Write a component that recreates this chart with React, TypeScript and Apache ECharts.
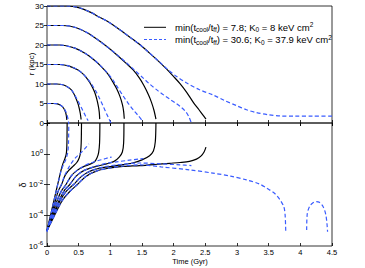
import React, { useEffect, useRef } from "react";
import * as echarts from "echarts";

// ---------- Top panel: radius r (kpc) vs time (Gyr) ----------
const rSolid5 = [[0,5],[0.1,5],[0.15,4.95],[0.2,4.7],[0.24,4.25],[0.27,3.6],[0.29,2.9],[0.303,2.1],[0.31,1.3],[0.312,0.8]];
const rDash5 = [[0,5],[0.1,5],[0.15,4.95],[0.2,4.7],[0.24,4.25],[0.27,3.7],[0.3,2.8],[0.32,1.8],[0.335,0.8],[0.342,0]];
const rSolid10 = [[0,10],[0.15,10],[0.25,9.8],[0.32,9.3],[0.385,8.5],[0.43,7.3],[0.46,6.2],[0.49,4.9],[0.51,3.7],[0.525,2.5],[0.535,1.4],[0.538,0.9]];
const rDash10 = [[0,10],[0.15,10],[0.25,9.8],[0.32,9.3],[0.385,8.5],[0.43,7.4],[0.47,6.2],[0.51,5.0],[0.55,3.7],[0.59,2.4],[0.62,1.4],[0.65,0.6]];
const rSolid15 = [[0,15],[0.2,15],[0.35,14.6],[0.49,13.6],[0.58,12.4],[0.65,11.0],[0.7,9.7],[0.75,8.0],[0.785,6.2],[0.81,4.4],[0.825,2.8],[0.832,1.0]];
const rDash15 = [[0,15],[0.2,15],[0.35,14.6],[0.49,13.6],[0.58,12.4],[0.65,11.1],[0.71,9.8],[0.77,8.2],[0.83,6.3],[0.89,4.2],[0.94,2.4],[0.98,1.0],[1.01,0]];
const rSolid20 = [[0,20],[0.2,20],[0.44,19.2],[0.6,17.9],[0.75,16.1],[0.85,14.6],[0.96,12.6],[1.04,10.5],[1.1,8.8],[1.15,6.9],[1.19,4.8],[1.21,3.0],[1.22,1.1]];
const rDash20 = [[0,20],[0.2,20],[0.44,19.2],[0.6,17.9],[0.75,16.1],[0.85,14.6],[0.96,12.7],[1.05,10.8],[1.12,9.0],[1.2,7.0],[1.28,5.1],[1.36,3.4],[1.44,1.9],[1.51,0.5]];
const rSolid25 = [[0,25],[0.25,25],[0.45,24.5],[0.65,23.0],[0.83,21.0],[0.96,19.4],[1.1,17.5],[1.25,15.3],[1.36,13.6],[1.46,11.5],[1.53,9.6],[1.6,7.3],[1.65,5.3],[1.69,3.2],[1.72,1.0]];
const rDash25 = [[0,25],[0.25,25],[0.45,24.5],[0.65,23.0],[0.83,21.0],[0.96,19.4],[1.1,17.6],[1.25,15.5],[1.4,13.3],[1.52,11.5],[1.62,10.0],[1.75,8.3],[1.85,7.1],[1.94,6.1],[2.04,5.0],[2.12,4.0],[2.19,2.9],[2.24,1.6],[2.28,0]];
const rSolid30 = [[0,30],[0.3,30],[0.5,29.6],[0.7,28.3],[0.83,27.1],[0.94,26.2],[1.1,24.5],[1.36,21.4],[1.46,20.2],[1.6,18.2],[1.75,16.0],[1.89,13.8],[2.0,11.9],[2.1,10.1],[2.2,8.0],[2.31,5.3],[2.4,3.4],[2.46,2.1],[2.51,1.0]];
const rDash30 = [[0,30],[0.3,30],[0.5,29.6],[0.7,28.3],[0.83,27.1],[0.94,26.2],[1.1,24.5],[1.36,21.4],[1.46,20.2],[1.6,18.2],[1.78,15.6],[1.9,13.8],[2.04,12.0],[2.2,10.3],[2.4,8.6],[2.62,7.2],[2.8,5.8],[3.0,4.4],[3.15,3.4],[3.3,2.7],[3.5,2.1],[3.68,1.8],[3.9,1.75],[4.2,1.75],[4.5,1.75]];

// ---------- Bottom panel: delta vs time (Gyr) ----------
const dSolid5 = [[0,1e-5],[0.06,1.2e-4],[0.12,1.4e-3],[0.18,1.6e-2],[0.22,8e-2],[0.25,0.22],[0.28,0.45],[0.3,0.8],[0.31,1.6],[0.315,6],[0.318,100]];
const dDash5 = [[0,8e-6],[0.06,1e-4],[0.12,1.3e-3],[0.18,1.5e-2],[0.22,7e-2],[0.26,0.2],[0.29,0.35],[0.31,0.6],[0.33,1.4],[0.34,6],[0.344,100]];
const dSolid10 = [[0,1e-5],[0.06,8e-5],[0.12,6e-4],[0.18,4e-3],[0.23,1e-2],[0.28,3.5e-2],[0.34,8e-2],[0.41,0.15],[0.47,0.27],[0.51,0.55],[0.53,1.3],[0.54,5],[0.545,100]];
const dDash10 = [[0,1e-5],[0.06,8e-5],[0.12,6e-4],[0.18,4e-3],[0.23,1.1e-2],[0.28,4e-2],[0.34,0.12],[0.4,0.3],[0.46,0.6],[0.53,1.1],[0.59,2.0],[0.63,3.0],[0.66,4.4]];
const dSolid15 = [[0,1e-5],[0.08,1e-4],[0.16,9e-4],[0.23,4e-3],[0.3,1e-2],[0.38,3.5e-2],[0.47,8e-2],[0.57,0.14],[0.68,0.21],[0.75,0.3],[0.79,0.55],[0.815,1.2],[0.83,5],[0.835,100]];
const dDash15 = [[0,1e-5],[0.08,1e-4],[0.16,9e-4],[0.23,4e-3],[0.3,1e-2],[0.38,3.5e-2],[0.47,8e-2],[0.57,0.15],[0.68,0.24],[0.8,0.35],[0.9,0.45],[0.97,0.55],[1.02,0.6]];
const dSolid20 = [[0,1e-5],[0.1,1.2e-4],[0.2,1.1e-3],[0.28,4.5e-3],[0.36,1e-2],[0.46,3.5e-2],[0.58,8e-2],[0.75,0.14],[0.94,0.22],[1.06,0.32],[1.14,0.6],[1.19,1.3],[1.21,5],[1.215,100]];
const dDash20 = [[0,1e-5],[0.1,1.2e-4],[0.2,1.1e-3],[0.28,4.5e-3],[0.36,1e-2],[0.46,3.5e-2],[0.58,8e-2],[0.75,0.15],[0.94,0.24],[1.1,0.3],[1.3,0.38],[1.45,0.45],[1.52,0.48]];
const dSolid25 = [[0,1e-5],[0.1,9e-5],[0.2,8e-4],[0.3,3.5e-3],[0.42,1e-2],[0.55,3.5e-2],[0.7,8e-2],[0.9,0.13],[1.15,0.18],[1.35,0.25],[1.5,0.4],[1.62,0.75],[1.68,1.5],[1.71,6],[1.72,100]];
const dDash25 = [[0,1e-5],[0.1,9e-5],[0.2,8e-4],[0.3,3.5e-3],[0.42,1e-2],[0.55,3.5e-2],[0.7,8e-2],[0.9,0.14],[1.15,0.2],[1.46,0.25],[1.8,0.22],[2.1,0.19],[2.28,0.17]];
const dSolid30 = [[0,1e-5],[0.12,1e-4],[0.24,9e-4],[0.36,3.5e-3],[0.48,1e-2],[0.62,3.5e-2],[0.8,8e-2],[1.0,0.12],[1.2,0.15],[1.46,0.17],[1.7,0.2],[1.94,0.24],[2.1,0.27],[2.25,0.32],[2.36,0.45],[2.43,0.7],[2.48,1.3],[2.51,2.7]];
const dDash30 = [[0,1e-5],[0.12,1e-4],[0.24,9e-4],[0.36,3.5e-3],[0.48,1e-2],[0.62,3.5e-2],[0.8,8e-2],[1.0,0.12],[1.2,0.16],[1.46,0.19],[1.8,0.14],[2.25,0.09],[2.62,0.055],[2.9,0.035],[3.15,0.02],[3.35,0.011],[3.47,5.8e-3],[3.6,2.5e-3],[3.68,1e-3],[3.74,3.5e-4],[3.76,1e-4],[3.77,8e-6]];
const dDash30b = [[4.1,1.1e-5],[4.11,1.3e-4],[4.15,4e-4],[4.2,6.5e-4],[4.25,7.8e-4],[4.3,7e-4],[4.36,3.6e-4],[4.4,1.2e-4],[4.42,3e-5],[4.43,8.5e-6]];

// ---------- Text ----------
const legendSolid = "{m|min(t}{s|cool}{m|/t}{s|ff}{m|) = 7.8; K}{s|0}{m| = 8 keV cm}{p|2}";
const legendDash = "{m|min(t}{s|cool}{m|/t}{s|ff}{m|) = 30.6; K}{s|0}{m| = 37.9 keV cm}{p|2}";
const topYName = "r (kpc)";
const bottomYName = "δ";
const xName = "Time (Gyr)";

const BLACK = "#000000";
const BLUE = "#3a5cff";
const FONT = "Liberation Sans, Arial, Helvetica, sans-serif";

const topSolid = [rSolid5, rSolid10, rSolid15, rSolid20, rSolid25, rSolid30];
const topDash = [rDash5, rDash10, rDash15, rDash20, rDash25, rDash30];
const botSolid = [dSolid5, dSolid10, dSolid15, dSolid20, dSolid25, dSolid30];
const botDash = [dDash5, dDash10, dDash15, dDash20, dDash25, dDash30, dDash30b];

function mk(data: number[][], grid: number, dashed: boolean) {
  return {
    type: "line",
    xAxisIndex: grid,
    yAxisIndex: grid,
    data,
    showSymbol: false,
    symbol: "none",
    smooth: 0.3,
    silent: true,
    clip: true,
    z: dashed ? 4 : 3,
    lineStyle: {
      color: dashed ? BLUE : BLACK,
      width: 1.2,
      type: dashed ? [4, 2.5] : "solid",
    },
  };
}

const tick = { show: true, inside: true, length: 3, lineStyle: { color: BLACK, width: 0.8 } };
const labelBase = { color: BLACK, fontSize: 7.5, fontFamily: FONT };

export default function App() {
  const ref = useRef<HTMLDivElement>(null);
  useEffect(() => {
    if (!ref.current) return;
    const chart = echarts.init(ref.current, null, { renderer: "svg" });
    const xBase = (grid: number, pos: string, labels: boolean) => ({
      type: "value",
      gridIndex: grid,
      position: pos,
      min: 0,
      max: 4.5,
      interval: 0.5,
      axisLine: { show: false },
      axisTick: tick,
      splitLine: { show: false },
      axisLabel: labels
        ? { ...labelBase, margin: 2, lineHeight: 8, formatter: (v: number) => String(v) }
        : { show: false },
    });
    const option: any = {
      animation: false,
      backgroundColor: "#ffffff",
      grid: [
        { left: 47, top: 6, width: 285, height: 117, show: true, borderColor: BLACK, borderWidth: 0.8, backgroundColor: "transparent" },
        { left: 47, top: 123, width: 285, height: 123, show: true, borderColor: BLACK, borderWidth: 0.8, backgroundColor: "transparent" },
      ],
      xAxis: [
        xBase(0, "bottom", false),
        xBase(1, "bottom", true),
        xBase(0, "top", false),
        xBase(1, "top", false),
      ],
      yAxis: [
        {
          type: "value", gridIndex: 0, position: "left", min: 0, max: 30, interval: 5,
          axisLine: { show: false }, axisTick: tick, splitLine: { show: false },
          axisLabel: { ...labelBase, fontSize: 8, margin: 3 },
        },
        {
          type: "log", logBase: 10, gridIndex: 1, position: "left", min: 1e-6, max: 100, interval: 2,
          axisLine: { show: false }, axisTick: tick, splitLine: { show: false }, minorTick: { show: false },
          axisLabel: {
            ...labelBase,
            margin: 4,
            formatter: (v: number) => {
              const e = Math.round(Math.log10(v));
              if (e >= 2) return "";
              return `{b|10}{e|${e}}`;
            },
            rich: {
              b: { fontSize: 8, fontFamily: FONT, color: BLACK },
              e: { fontSize: 6, fontFamily: FONT, color: BLACK, padding: [0, 0, 6, 0] },
            },
          },
        },
        {
          type: "value", gridIndex: 0, position: "right", min: 0, max: 30, interval: 5,
          axisLine: { show: false }, axisTick: tick, splitLine: { show: false }, axisLabel: { show: false },
        },
        {
          type: "log", logBase: 10, gridIndex: 1, position: "right", min: 1e-6, max: 100, interval: 2,
          axisLine: { show: false }, axisTick: tick, splitLine: { show: false }, axisLabel: { show: false },
        },
      ],
      series: [
        ...topSolid.map((d) => mk(d, 0, false)),
        ...topDash.map((d) => mk(d, 0, true)),
        ...botSolid.map((d) => mk(d, 1, false)),
        ...botDash.map((d) => mk(d, 1, true)),
      ],
      graphic: [
        { type: "line", shape: { x1: 144, y1: 27.3, x2: 166, y2: 27.3 }, style: { stroke: BLACK, lineWidth: 1 } },
        { type: "line", shape: { x1: 144, y1: 39.5, x2: 166, y2: 39.5 }, style: { stroke: BLUE, lineWidth: 1, lineDash: [3, 2] } },
        {
          type: "text", x: 175, y: 27.3,
          style: {
            text: legendSolid, verticalAlign: "middle", align: "left",
            rich: {
              m: { fontSize: 9.5, fontFamily: FONT, fill: BLACK },
              s: { fontSize: 6.5, fontFamily: FONT, fill: BLACK, padding: [5, 0, 0, 0] },
              p: { fontSize: 6.5, fontFamily: FONT, fill: BLACK, padding: [0, 0, 5, 0] },
            },
          },
        },
        {
          type: "text", x: 175, y: 39.5,
          style: {
            text: legendDash, verticalAlign: "middle", align: "left",
            rich: {
              m: { fontSize: 9.5, fontFamily: FONT, fill: BLACK },
              s: { fontSize: 6.5, fontFamily: FONT, fill: BLACK, padding: [5, 0, 0, 0] },
              p: { fontSize: 6.5, fontFamily: FONT, fill: BLACK, padding: [0, 0, 5, 0] },
            },
          },
        },
        {
          type: "text", x: 31.5, y: 64, rotation: Math.PI / 2,
          style: { text: topYName, fontSize: 8, fontFamily: FONT, fill: BLACK, align: "center", verticalAlign: "middle" },
        },
        {
          type: "text", x: 22.5, y: 185, rotation: Math.PI / 2,
          style: { text: bottomYName, fontSize: 9, fontFamily: FONT, fill: BLACK, align: "center", verticalAlign: "middle" },
        },
        {
          type: "text", x: 190, y: 261.5,
          style: { text: xName, fontSize: 7.5, fontFamily: FONT, fill: BLACK, align: "center", verticalAlign: "middle" },
        },
      ],
    };
    chart.setOption(option);
    return () => chart.dispose();
  }, []);
  return (
    <div
      ref={ref}
      style={{ position: "absolute", left: 0, top: 0, width: 365, height: 268, background: "#fff" }}
    />
  );
}
